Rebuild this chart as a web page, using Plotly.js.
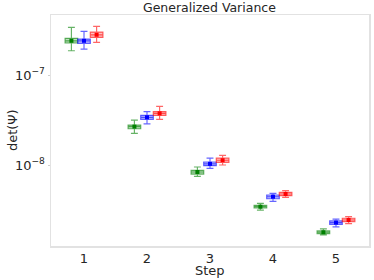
<!DOCTYPE html>
<html>
<head>
<script src="https://cdn.plot.ly/plotly-3.0.1.min.js"></script>
<style>html,body{margin:0;padding:0;background:#fff;}#chart{width:374px;height:280px;}</style>
</head>
<body>
<div id="chart"></div>
<script>
var steps = [1, 2, 3, 4, 5];
var groupNames = ["A", "B", "C"];
var groupColors = ["0,128,0", "0,0,255", "255,0,0"];
var groupOffsets = [-0.2, 0, 0.2];

var greenUpper = [3.39e-7, 3.16e-8, 9.5e-9, 3.75e-9, 1.95e-9];
var greenQ3    = [2.56e-7, 2.78e-8, 8.73e-9, 3.56e-9, 1.85e-9];
var greenMed   = [2.40e-7, 2.67e-8, 8.36e-9, 3.44e-9, 1.79e-9];
var greenQ1    = [2.27e-7, 2.53e-8, 7.94e-9, 3.33e-9, 1.73e-9];
var greenLower = [1.86e-7, 2.25e-8, 7.49e-9, 3.16e-9, 1.67e-9];

var blueUpper = [3.06e-7, 3.92e-8, 1.19e-8, 4.85e-9, 2.51e-9];
var blueQ3    = [2.51e-7, 3.57e-8, 1.08e-8, 4.64e-9, 2.39e-9];
var blueMed   = [2.40e-7, 3.39e-8, 1.03e-8, 4.44e-9, 2.29e-9];
var blueQ1    = [2.25e-7, 3.22e-8, 9.83e-9, 4.22e-9, 2.19e-9];
var blueLower = [1.94e-7, 2.86e-8, 9.19e-9, 3.94e-9, 2.05e-9];

var redUpper = [3.48e-7, 4.49e-8, 1.28e-8, 5.19e-9, 2.67e-9];
var redQ3    = [3.00e-7, 3.92e-8, 1.19e-8, 4.97e-9, 2.56e-9];
var redMed   = [2.80e-7, 3.75e-8, 1.13e-8, 4.76e-9, 2.45e-9];
var redQ1    = [2.62e-7, 3.56e-8, 1.07e-8, 4.56e-9, 2.35e-9];
var redLower = [2.31e-7, 3.22e-8, 1.00e-8, 4.37e-9, 2.23e-9];

var xTickVals = [1, 2, 3, 4, 5];
var xTickText = ["1", "2", "3", "4", "5"];
var yTickVals = [1e-7, 1e-8];
var yTickText = ["10<sup>−7</sup>", "10<sup>−8</sup>"];

var stats = [
  [greenLower, greenQ1, greenMed, greenQ3, greenUpper],
  [blueLower, blueQ1, blueMed, blueQ3, blueUpper],
  [redLower, redQ1, redMed, redQ3, redUpper]
];

var traces = [];
for (var g = 0; g < 3; g++) {
  var xs = steps.map(function(s){ return s + groupOffsets[g]; });
  traces.push({
    type: "box",
    name: groupNames[g],
    x: xs,
    lowerfence: stats[g][0],
    q1: stats[g][1],
    median: stats[g][2],
    q3: stats[g][3],
    upperfence: stats[g][4],
    width: 0.2,
    whiskerwidth: 0.55,
    fillcolor: "rgba(" + groupColors[g] + ",0.25)",
    line: {color: "rgba(" + groupColors[g] + ",0.6)", width: 1.2},
    hoverinfo: "skip",
    showlegend: false
  });
  traces.push({
    type: "scatter",
    mode: "markers",
    x: xs,
    y: stats[g][2],
    marker: {symbol: "square", size: 4, color: "rgb(" + groupColors[g] + ")"},
    hoverinfo: "skip",
    showlegend: false
  });
}

var layout = {
  width: 374, height: 280,
  margin: {l: 51, r: 5, t: 15, b: 34},
  paper_bgcolor: "#fff", plot_bgcolor: "#fff",
  boxmode: "overlay",
  font: {family: "DejaVu Sans", color: "#262626"},
  title: {text: "Generalized Variance", font: {size: 12.5, color: "#262626"}, x: 0.56, xanchor: "center", y: 0.99, yanchor: "top"},
  xaxis: {
    range: [0.476, 5.524],
    tickvals: xTickVals, ticktext: xTickText,
    tickfont: {size: 13},
    showgrid: false, zeroline: false,
    showline: true, mirror: true, linecolor: "#e2e2e2", linewidth: 1.5,
    ticks: "", ticklen: 0
  },
  yaxis: {
    type: "log",
    range: [-8.9, -6.333],
    tickvals: yTickVals, ticktext: yTickText,
    tickfont: {size: 13},
    showgrid: false, zeroline: false,
    showline: true, mirror: true, linecolor: "#e2e2e2", linewidth: 1.5,
    ticks: "outside", ticklen: 2, tickcolor: "#d0d0d0"
  },
  annotations: [
    {text: "Step", xref: "paper", yref: "paper", x: 0.5, y: -0.108, xanchor: "center", yanchor: "middle", showarrow: false, font: {size: 13, color: "#262626"}},
    {text: "det(Ψ)", xref: "paper", yref: "paper", x: -0.1226, y: 0.502, xanchor: "center", yanchor: "middle", textangle: -90, showarrow: false, font: {size: 13, color: "#262626"}}
  ]
};

Plotly.newPlot("chart", traces, layout, {staticPlot: true, displayModeBar: false});
</script>
</body>
</html>
